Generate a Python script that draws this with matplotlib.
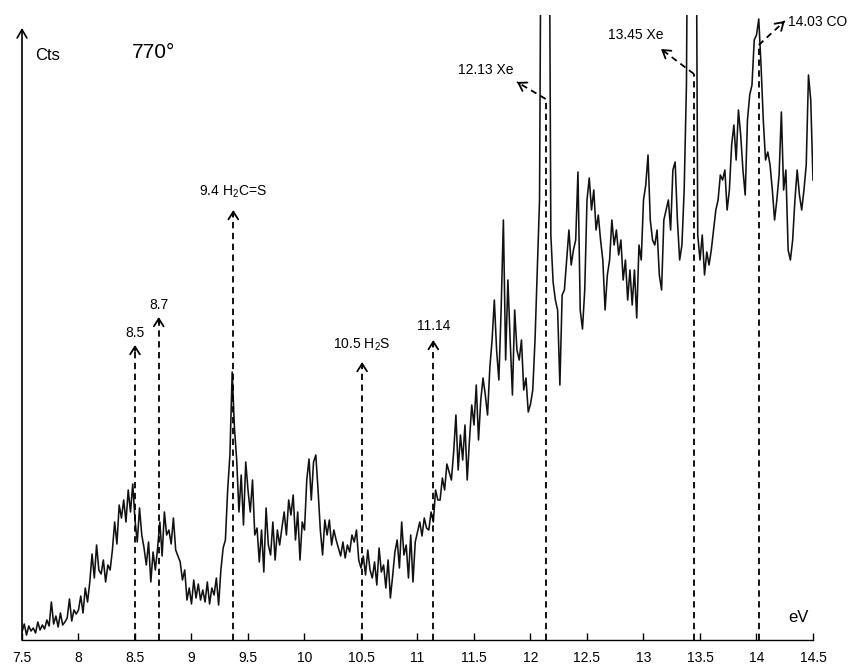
import numpy as np
import matplotlib.pyplot as plt

# %% Fonts
plt.rcParams['font.family'] = ['Liberation Sans', 'DejaVu Sans']
plt.rcParams['mathtext.fontset'] = 'custom'
plt.rcParams['mathtext.rm'] = 'Liberation Sans'

# %% Spectrum (counts, 0.02 eV steps from 7.5 eV)
cts_75 = [8, 16, 5, 14, 9, 12, 7, 18, 10, 15, 11, 20, 14, 38, 16, 24, 13, 27, 15, 18, 22, 41, 19, 30, 26]
cts_80 = [30, 44, 27, 52, 38, 58, 86, 62, 95, 70, 66, 80, 58, 75, 70, 90, 118, 96, 135, 122, 140, 118, 150, 128, 156]
cts_85 = [120, 98, 132, 105, 92, 75, 98, 58, 88, 70, 92, 118, 84, 128, 105, 110, 96, 122, 90, 84, 78, 60, 70, 40, 52]
cts_90 = [36, 60, 42, 56, 40, 50, 38, 58, 36, 52, 45, 62, 35, 70, 92, 100, 150, 185, 268, 212, 180, 128, 165, 115, 178]
cts_95 = [150, 128, 160, 105, 112, 78, 110, 68, 132, 95, 85, 118, 80, 110, 95, 112, 128, 105, 140, 125, 145, 100, 128, 80, 118]
cts_100 = [110, 160, 181, 140, 178, 185, 150, 110, 85, 120, 105, 120, 95, 110, 100, 92, 84, 98, 82, 95, 88, 105, 98, 110, 80]
cts_105 = [72, 84, 65, 90, 70, 62, 78, 55, 92, 68, 75, 52, 80, 42, 64, 88, 100, 72, 118, 85, 95, 62, 105, 58, 98]
cts_110 = [108, 118, 104, 122, 112, 110, 128, 118, 150, 140, 140, 162, 150, 176, 168, 160, 188, 225, 170, 205, 180, 215, 160, 200, 235]
cts_115 = [215, 255, 200, 240, 262, 245, 225, 272, 300, 340, 290, 260, 330, 420, 280, 360, 300, 245, 330, 290, 280, 300, 250, 262, 228]
cts_120 = [236, 250, 300, 370, 440, 900, 900, 900, 900, 405, 358, 340, 330, 255, 345, 350, 380, 410, 375, 390, 400, 468, 330, 311, 350]
cts_125 = [440, 462, 430, 450, 410, 425, 400, 380, 330, 365, 380, 420, 395, 410, 385, 400, 360, 380, 340, 370, 335, 370, 322, 395, 380]
cts_130 = [440, 455, 485, 420, 400, 395, 410, 365, 350, 420, 430, 440, 410, 470, 478, 420, 380, 395, 450, 555, 900, 900, 900, 900, 405]
cts_135 = [380, 405, 365, 388, 375, 390, 410, 430, 440, 465, 460, 470, 430, 450, 495, 515, 480, 530, 505, 470, 445, 520, 545, 555, 600]
cts_140 = [605, 621, 575, 520, 480, 488, 475, 450, 420, 440, 465, 528, 450, 470, 390, 380, 400, 440, 470, 445, 430, 450, 475, 565, 540]
cts_end = [460]

cts = np.array(cts_75 + cts_80 + cts_85 + cts_90 + cts_95 + cts_100 + cts_105 +
               cts_110 + cts_115 + cts_120 + cts_125 + cts_130 + cts_135 + cts_140 + cts_end)
ev = 7.5 + 0.02*np.arange(len(cts))

# %% Assignments: upward dashed arrows
up_x     = [8.5, 8.71, 9.37, 10.51, 11.14]
up_top   = [295, 323, 430, 278, 300]
up_text  = ['8.5', '8.7', '9.4 H$_\\mathregular{2}$C=S', '10.5 H$_\\mathregular{2}$S', '11.14']
up_texty = [300, 328, 440, 287, 307]

# Assignments: bent dashed arrows near the top
bent_x     = [12.135, 13.447, 14.02]
bent_top   = [541, 566, 595]
bent_end_x = [11.88, 13.155, 14.25]
bent_end_y = [558, 591, 619]
bent_text  = ['12.13 Xe', '13.45 Xe', '14.03 CO']
bent_tx    = [11.6, 12.93, 14.28]
bent_ty    = [570, 605, 618]
bent_ha    = ['center', 'center', 'left']

# %% Figure
W, H, DPI = 853, 666, 100
fig = plt.figure(figsize=(W/DPI, H/DPI), dpi=DPI)
ax = fig.add_axes([22/W, 26/H, 791/W, 625/H])

ax.plot(ev, cts, color='#111111', lw=1.15)
ax.set_xlim(7.5, 14.5)
ax.set_ylim(0, 625)

for s in ['top', 'right', 'left']:
    ax.spines[s].set_visible(False)
ax.spines['bottom'].set_linewidth(1.0)
ax.set_yticks([])
ax.set_xticks(np.arange(7.5, 14.51, 0.5))
ax.set_xticklabels(['7.5', '8', '8.5', '9', '9.5', '10', '10.5', '11', '11.5',
                    '12', '12.5', '13', '13.5', '14', '14.5'])
ax.tick_params(axis='x', direction='in', length=5, width=1.0, pad=8, labelsize=10)

# y axis as an arrow
ax.annotate('', xy=(7.5, 612), xytext=(7.5, 0), annotation_clip=False,
            arrowprops=dict(arrowstyle='->,head_length=0.6,head_width=0.35',
                            lw=1.2, color='black', shrinkA=0, shrinkB=0))
ax.text(7.615, 585, 'Cts', fontsize=12, va='center', ha='left')
ax.text(8.47, 588, '770°', fontsize=15, va='center', ha='left')
ax.text(14.37, 22, 'eV', fontsize=12, va='center', ha='center')

dash = (0, (3.5, 2.5))
head = '->,head_length=0.55,head_width=0.35'

for x, top, lab, ty in zip(up_x, up_top, up_text, up_texty):
    ax.plot([x, x], [0, top - 4], color='black', lw=1.3, linestyle=dash)
    ax.annotate('', xy=(x, top), xytext=(x, top - 6),
                arrowprops=dict(arrowstyle=head, lw=1.3, color='black',
                                shrinkA=0, shrinkB=0))
    ax.text(x, ty, lab, fontsize=10, ha='center', va='bottom')

for x, top, ex, ey, lab, tx, ty, ha in zip(bent_x, bent_top, bent_end_x, bent_end_y,
                                            bent_text, bent_tx, bent_ty, bent_ha):
    ax.plot([x, x], [0, top], color='black', lw=1.3, linestyle=dash)
    ax.plot([x, ex], [top, ey], color='black', lw=1.3, linestyle=dash, clip_on=False)
    ax.annotate('', xy=(ex, ey), xytext=(ex + 0.1*(x - ex), ey + 0.1*(top - ey)),
                annotation_clip=False,
                arrowprops=dict(arrowstyle=head, lw=1.3, color='black',
                                shrinkA=0, shrinkB=0))
    ax.text(tx, ty, lab, fontsize=10, ha=ha, va='center')

fig.savefig('out.png', dpi=DPI)
